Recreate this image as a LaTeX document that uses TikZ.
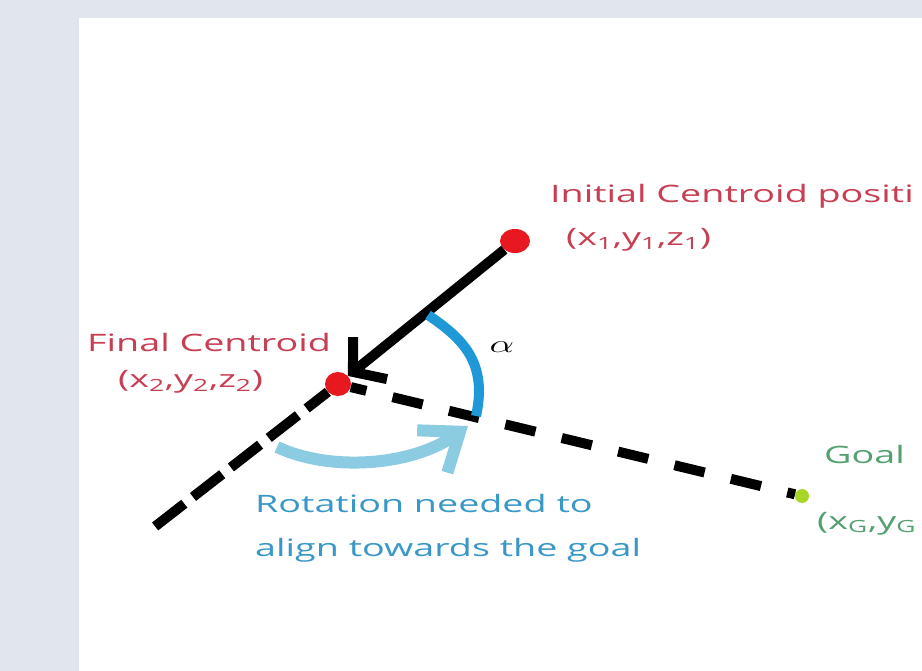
\documentclass[tikz,border=0pt]{standalone}
\usepackage{fontspec}
\setsansfont{Open Sans}
\usetikzlibrary{arrows.meta,shapes.geometric}
\definecolor{pagegray}{RGB}{225,229,238}
\definecolor{dotred}{RGB}{232,24,32}
\definecolor{labelred}{RGB}{200,62,82}
\definecolor{goalgreen}{RGB}{168,214,40}
\definecolor{labelgreen}{RGB}{84,160,112}
\definecolor{arcblue}{RGB}{30,152,214}
\definecolor{rotblue}{RGB}{140,204,226}
\definecolor{textblue}{RGB}{58,152,200}
% the screenshot is stretched sideways
\newcommand{\widetxt}[1]{\scalebox{1.57}[1]{#1}}
\newcommand{\sub}[1]{\textsubscript{#1}}
\tikzset{
  dot/.style={ellipse, fill=dotred, inner sep=0pt},
  lbl/.style={font=\sffamily\fontsize{24}{24}\selectfont, anchor=base west, inner sep=0pt},
  dashline/.style={line width=10pt, dash pattern=on 31pt off 27pt},
}
\begin{document}
\begin{tikzpicture}[x=1pt, y=-1pt, >=Straight Barb]
  \useasboundingbox (0,0) rectangle (922,671);
  \fill[pagegray] (0,0) rectangle (922,671);
  \fill[white] (79,18) rectangle (922,671);
  \begin{scope}
    \clip (79,18) rectangle (922,671);
    % centroids and goal
    \node[dot, minimum width=30pt, minimum height=24pt] (init) at (515,241) {};
    \node[dot, minimum width=26pt, minimum height=24pt] (fin) at (338,384) {};
    \node[dot, fill=goalgreen, minimum width=14pt, minimum height=14pt] (goal) at (802,496) {};
    \coordinate (tail) at (148,532);
    % heading lines
    \draw[line width=10pt, -{Straight Barb[length=22pt, width=54pt]}] (init) -- (fin);
    \draw[dashline, dash pattern=on 37pt off 11pt, dash phase=10pt] (fin) -- (tail);
    \draw[dashline, dash phase=15pt] (fin) -- (goal);
    % angle
    \coordinate (arcstart) at (428,315);
    \coordinate (arcend) at (476,416);
    \draw[arcblue, line width=10pt] (arcstart) .. controls (462,338) and (488,362) .. (arcend);
    \node (alpha) at (502,347) {\widetxt{\fontsize{24}{24}\selectfont$\alpha$}};
    % rotation
    \coordinate (rotstart) at (277,447);
    \coordinate (rotend) at (468,426);
    \draw[rotblue, line width=12pt, -{Straight Barb[length=34pt, width=52pt]}]
      (rotstart) .. controls (330,472) and (412,466) .. (rotend);
    % labels
    \node[lbl, labelred] (initname) at (550,203) {\widetxt{Initial Centroid positi}};
    \node[lbl, labelred] (initpos) at (566,246) {\widetxt{(x\sub{1},y\sub{1},z\sub{1})}};
    \node[lbl, labelred] (finname) at (87,352) {\widetxt{Final Centroid}};
    \node[lbl, labelred] (finpos) at (118,388) {\widetxt{(x\sub{2},y\sub{2},z\sub{2})}};
    \node[lbl, labelgreen] (goalname) at (824,463) {\widetxt{Goal}};
    \node[lbl, labelgreen] (goalpos) at (817,529) {\widetxt{(x\sub{G},y\sub{G}}};
    \node[lbl, textblue] (rot1) at (255,512) {\widetxt{Rotation needed to}};
    \node[lbl, textblue] (rot2) at (255,556) {\widetxt{align towards the goal}};
  \end{scope}
\end{tikzpicture}
\end{document}
